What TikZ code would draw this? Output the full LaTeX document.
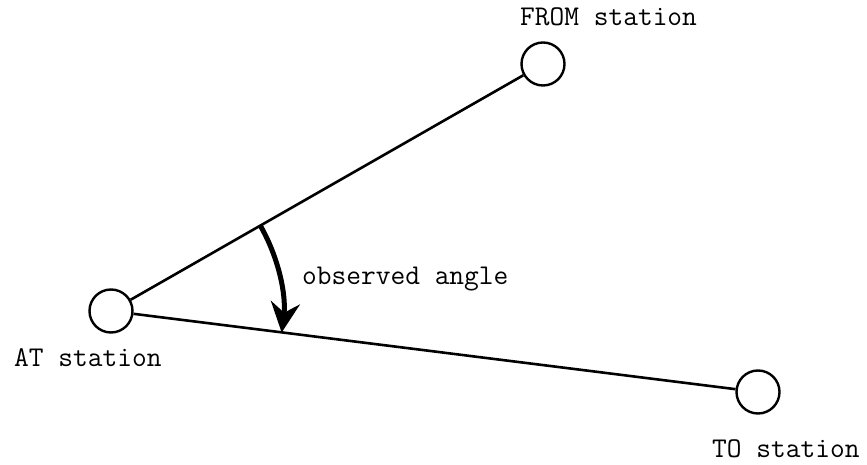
\documentclass[tikz,border=0pt]{standalone}
\usetikzlibrary{arrows.meta}
\begin{document}
\begin{tikzpicture}[x=1pt,y=1pt,
  station/.style={circle,draw,line width=2.4pt,minimum size=43pt,inner sep=0pt},
  leg/.style={line width=2.6pt},
  lbl/.style={anchor=base west,inner sep=0pt,font=\ttfamily\fontsize{28.6}{32}\selectfont},
  anglearrow/.style={line width=5pt,-{Stealth[length=30pt,width=29pt,inset=10pt]}}]
\useasboundingbox (0,0) rectangle (867,465);
\node[station] (at) at (111,154) {};
\node[station] (from) at (543,401) {};
\node[station] (to) at (758,73) {};
\draw[leg] (at) -- (from);
\draw[leg] (at) -- (to);
\draw[anglearrow] ([shift={(30:172)}]at.center) arc[start angle=30,end angle=-7.2,radius=172];
\node[lbl] (lfrom) at (520,439) {FROM station};
\node[lbl] (lobs) at (302,180) {observed angle};
\node[lbl] (lat) at (14,98) {AT station};
\node[lbl] (lto) at (712,7) {TO station};
\end{tikzpicture}
\end{document}
